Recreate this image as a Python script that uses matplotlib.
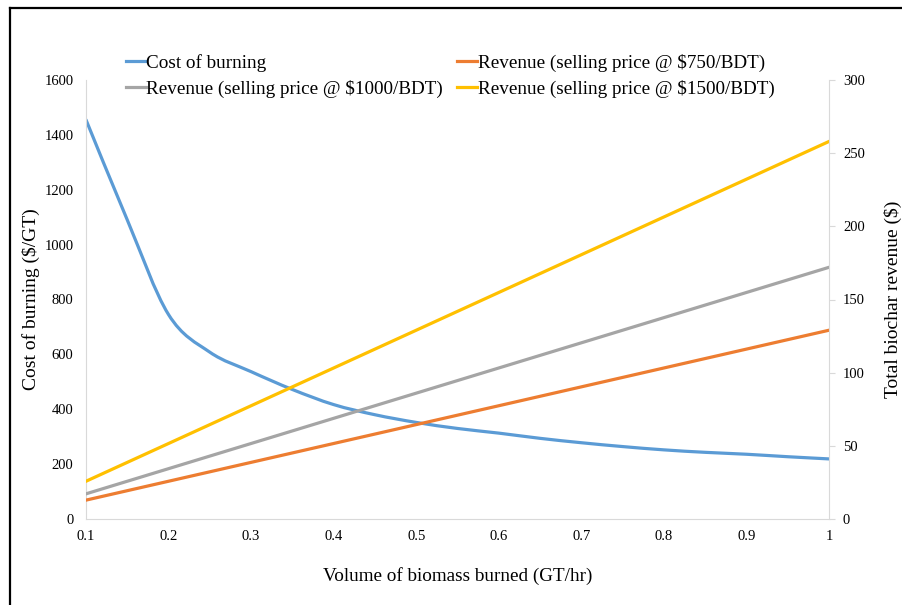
import numpy as np
import matplotlib
matplotlib.use("Agg")
from matplotlib import pyplot as plt
from matplotlib.path import Path
from matplotlib.patches import PathPatch
from matplotlib.lines import Line2D

plt.rcParams['font.family'] = ['Liberation Serif', 'DejaVu Serif']

# Data
volume_fine = [0.1, 0.15, 0.2, 0.25, 0.3, 0.35, 0.4, 0.45, 0.5, 0.55,
               0.6, 0.65, 0.7, 0.75, 0.8, 0.85, 0.9, 0.95, 1.0]
cost_burning = [1455, 1090, 745, 608, 537, 472, 417, 380, 352, 330,
                313, 294, 278, 264, 252, 243, 236, 227, 219]

volume = [0.1, 0.2, 0.3, 0.4, 0.5, 0.6, 0.7, 0.8, 0.9, 1.0]
rev_750 = [12.9, 25.8, 38.7, 51.6, 64.5, 77.4, 90.3, 103.2, 116.1, 129.0]
rev_1000 = [17.2, 34.4, 51.6, 68.8, 86.0, 103.2, 120.4, 137.6, 154.8, 172.0]
rev_1500 = [25.8, 51.6, 77.4, 103.2, 129.0, 154.8, 180.6, 206.4, 232.2, 258.0]

x_tick_labels = ['0.1', '0.2', '0.3', '0.4', '0.5', '0.6', '0.7', '0.8', '0.9', '1']

c_blue = '#5B9BD5'
c_orange = '#ED7D31'
c_gray = '#A5A5A5'
c_yellow = '#FFC000'
c_axis = '#D9D9D9'


def smooth_path(xs, ys):
    # Excel-like smoothed line: Catmull-Rom segments as cubic beziers
    pts = np.column_stack([xs, ys]).astype(float)
    verts = [pts[0]]
    codes = [Path.MOVETO]
    n = len(pts)
    for i in range(n - 1):
        p0 = pts[i - 1] if i > 0 else pts[i]
        p1 = pts[i]
        p2 = pts[i + 1]
        p3 = pts[i + 2] if i + 2 < n else pts[i + 1]
        c1 = p1 + (p2 - p0) / 6.0
        c2 = p2 - (p3 - p1) / 6.0
        verts += [c1, c2, p2]
        codes += [Path.CURVE4] * 3
    return Path(verts, codes)


fig = plt.figure(figsize=(9.03, 6.05), dpi=100)
ax = fig.add_axes([86 / 903, 86 / 605, 743 / 903, 439 / 605])
ax2 = ax.twinx()

ax.add_patch(PathPatch(smooth_path(volume_fine, cost_burning), fill=False,
                       edgecolor=c_blue, lw=2.3, capstyle='round'))
h_cost = Line2D([], [], color=c_blue, lw=2.3)

l750, = ax2.plot(volume, rev_750, color=c_orange, lw=2.3)
l1000, = ax2.plot(volume, rev_1000, color=c_gray, lw=2.3)
l1500, = ax2.plot(volume, rev_1500, color=c_yellow, lw=2.3)

ax.set_xlim(0.1, 1.0)
ax.set_ylim(0, 1600)
ax2.set_ylim(0, 300)
ax.set_xticks(volume)
ax.set_xticklabels(x_tick_labels)
ax.set_yticks(np.arange(0, 1601, 200))
ax2.set_yticks(np.arange(0, 301, 50))

for a in (ax, ax2):
    for s in a.spines.values():
        s.set_visible(False)
ax.spines['left'].set_visible(True)
ax.spines['bottom'].set_visible(True)
ax2.spines['right'].set_visible(True)
ax.spines['left'].set_color(c_axis)
ax.spines['bottom'].set_color(c_axis)
ax2.spines['right'].set_color(c_axis)

ax.tick_params(axis='both', length=0, labelsize=10.5, pad=8)
ax.tick_params(axis='y', pad=9)
ax2.tick_params(axis='y', length=4, color=c_axis, labelsize=10.5, pad=6)

ax.set_xlabel('Volume of biomass burned (GT/hr)', fontsize=13.8, labelpad=17)
ax.set_ylabel('Cost of burning ($/GT)', fontsize=14, labelpad=3)
ax2.set_ylabel('Total biochar revenue ($)', fontsize=14, labelpad=14)

fig.legend([h_cost, l1000, l750, l1500],
           ['Cost of burning', 'Revenue (selling price @ $1000/BDT)',
            'Revenue (selling price @ $750/BDT)', 'Revenue (selling price @ $1500/BDT)'],
           ncol=2, loc='upper left', bbox_to_anchor=(118 / 903, 1 - 46 / 605),
           frameon=False, fontsize=13.8, handlelength=1.05, handletextpad=0.02,
           columnspacing=0.75, labelspacing=0.42, borderaxespad=0)

# outer frame (top and left edges visible)
fig.add_artist(Line2D([10 / 903, 10 / 903], [0, 1 - 8.3 / 605], color='black', lw=1.6,
                      transform=fig.transFigure))
fig.add_artist(Line2D([10 / 903, 1], [1 - 8.3 / 605, 1 - 8.3 / 605], color='black', lw=1.6,
                      transform=fig.transFigure))

fig.savefig('out.png', dpi=100)
